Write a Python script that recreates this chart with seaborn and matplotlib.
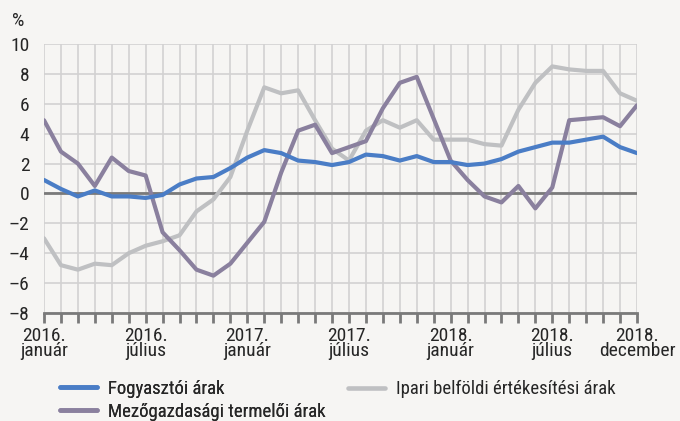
import numpy as np
import pandas as pd
import matplotlib
matplotlib.use("Agg")
import matplotlib.pyplot as plt
import seaborn as sns
from matplotlib.lines import Line2D

months = list(range(36))
fogyasztoi = [0.9, 0.3, -0.2, 0.2, -0.2, -0.2, -0.3, -0.1, 0.6, 1.0, 1.1, 1.7,
              2.4, 2.9, 2.7, 2.2, 2.1, 1.9, 2.1, 2.6, 2.5, 2.2, 2.5, 2.1,
              2.1, 1.9, 2.0, 2.3, 2.8, 3.1, 3.4, 3.4, 3.6, 3.8, 3.1, 2.7]
ipari = [-3.0, -4.8, -5.1, -4.7, -4.8, -4.0, -3.5, -3.2, -2.8, -1.2, -0.4, 1.1,
         4.2, 7.1, 6.7, 6.9, 4.9, 3.0, 2.2, 4.2, 4.9, 4.4, 4.9, 3.6,
         3.6, 3.6, 3.3, 3.2, 5.6, 7.4, 8.5, 8.3, 8.2, 8.2, 6.7, 6.2]
mezogazdasagi = [4.9, 2.8, 2.0, 0.5, 2.4, 1.5, 1.2, -2.6, -3.8, -5.1, -5.5, -4.7,
                 -3.3, -1.9, 1.4, 4.2, 4.6, 2.7, 3.1, 3.5, 5.7, 7.4, 7.8, 5.0,
                 2.2, 0.9, -0.2, -0.6, 0.5, -1.0, 0.4, 4.9, 5.0, 5.1, 4.5, 5.9]
series_names = ["Fogyasztói árak", "Ipari belföldi értékesítési árak", "Mezőgazdasági termelői árak"]
tick_pos = [0, 6, 12, 18, 24, 30, 35]
tick_labels = ["2016.\njanuár", "2016.\njúlius", "2017.\njanuár", "2017.\njúlius",
               "2018.\njanuár", "2018.\njúlius", "2018.\ndecember"]
y_ticks = [-8, -6, -4, -2, 0, 2, 4, 6, 8, 10]

colors = {series_names[0]: "#4A7DC6", series_names[1]: "#BFC0C2", series_names[2]: "#8A809E"}

sns.set_theme(style="white")
plt.rcParams["font.family"] = ["Roboto Condensed", "DejaVu Sans"]
FS = 14

df = pd.DataFrame({
    "month": months * 3,
    "value": fogyasztoi + ipari + mezogazdasagi,
    "series": [series_names[0]] * 36 + [series_names[1]] * 36 + [series_names[2]] * 36,
})

bg = "#F6F5F3"
fig = plt.figure(figsize=(6.8, 4.21), dpi=100, facecolor=bg)
ax = fig.add_axes([44 / 680, 1 - 313 / 421, (637 - 44) / 680, (313 - 44) / 421])
ax.set_facecolor(bg)

for m in months:
    ax.axvline(m, color="#D2D2D2", lw=1.2, zorder=0)
for y in y_ticks:
    ax.axhline(y, color="#D2D2D2", lw=1.2, zorder=0)
ax.axhline(0, color="#7A7A7A", lw=2.0, zorder=1)

order = [series_names[1], series_names[2], series_names[0]]
sns.lineplot(data=df, x="month", y="value", hue="series", hue_order=order,
             palette=colors, lw=3.0, ax=ax, legend=False, zorder=3)

ax.set_xlim(0, 35)
ax.set_ylim(-8, 10)
ax.set_xlabel("")
ax.set_ylabel("")
ax.set_yticks(y_ticks)
ax.set_yticklabels([str(v).replace("-", "\u2013") for v in y_ticks], fontsize=FS)
ax.set_xticks(months)
lbls = [""] * 36
for p, l in zip(tick_pos, tick_labels):
    lbls[p] = l
ax.set_xticklabels(lbls, fontsize=FS, linespacing=0.78)
ax.tick_params(axis="x", which="major", direction="out", length=7.2, width=2,
               color="#7A7A7A", pad=3, bottom=True)
ax.tick_params(axis="y", length=0, pad=10.5)
for s in ["top", "right", "left"]:
    ax.spines[s].set_visible(False)
ax.spines["bottom"].set_color("#7A7A7A")
ax.spines["bottom"].set_linewidth(2)

fig.text(12 / 680, 1 - 21 / 421, "%", fontsize=FS, ha="left", va="center")

LFS = 13.5
h = {n: Line2D([0], [0], color=colors[n], lw=3.3, solid_capstyle="round") for n in series_names}
leg_kw = dict(loc="upper left", frameon=False, fontsize=LFS, handlelength=1.95,
              handletextpad=0.6, labelspacing=0.25, borderaxespad=0, borderpad=0)
leg1 = fig.legend([h[series_names[0]], h[series_names[2]]],
                  [series_names[0], series_names[2]],
                  bbox_to_anchor=(60 / 680, 1 - 380 / 421), **leg_kw)
fig.add_artist(leg1)
leg2 = fig.legend([h[series_names[1]]], [series_names[1]],
                  bbox_to_anchor=(348 / 680, 1 - 380 / 421), **leg_kw)

fig.savefig("out.png", dpi=100, facecolor=bg)
